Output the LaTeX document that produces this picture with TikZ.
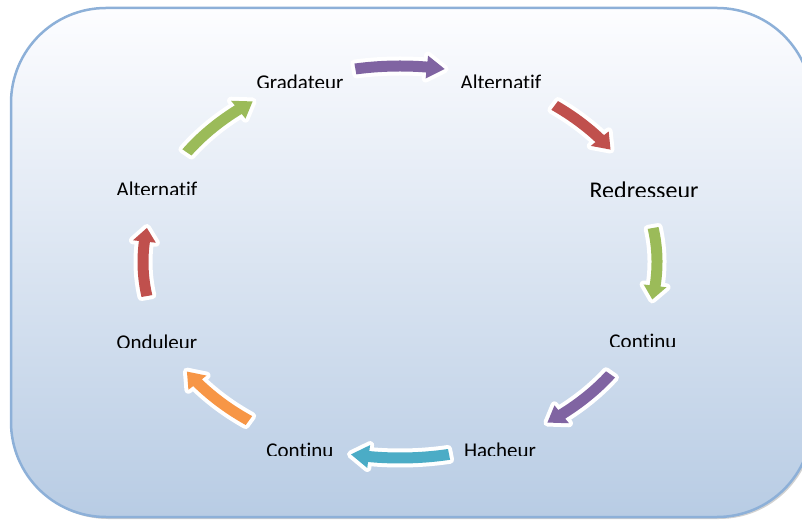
\documentclass[tikz,border=0pt]{standalone}
\usepackage{fontspec}
\setmainfont{Carlito}[Ligatures=NoCommon]
\usetikzlibrary{calc}

\definecolor{frameline}{RGB}{141,176,216}
\definecolor{frametop}{RGB}{253,253,255}
\definecolor{framebottom}{RGB}{184,204,228}
\definecolor{cpurple}{RGB}{128,100,162}
\definecolor{cred}{RGB}{192,80,77}
\definecolor{cgreen}{RGB}{155,187,89}
\definecolor{cteal}{RGB}{75,172,198}
\definecolor{corange}{RGB}{247,150,70}

\tikzset{
  lbl/.style={inner sep=0pt, text=black},
}

% curved block arrow along the cycle ellipse (radii 257 x 196),
% running clockwise from the tail angle #2 to the tip angle #3
\newcommand{\cyclearrow}[3]{%
  \pgfmathsetmacro\hb{#3+4}%
  \path[fill=white, draw=white, line width=8pt, line join=round]
    (#2:262.5 and 201.5) arc[start angle=#2, end angle=\hb, x radius=262.5, y radius=201.5]
    -- (\hb:268.5 and 207.5) -- (#3:257 and 196) -- (\hb:245.5 and 184.5) -- (\hb:251.5 and 190.5)
    arc[start angle=\hb, end angle=#2, x radius=251.5, y radius=190.5] -- cycle;
  \fill[#1]
    (#2:262.5 and 201.5) arc[start angle=#2, end angle=\hb, x radius=262.5, y radius=201.5]
    -- (\hb:268.5 and 207.5) -- (#3:257 and 196) -- (\hb:245.5 and 184.5) -- (\hb:251.5 and 190.5)
    arc[start angle=\hb, end angle=#2, x radius=251.5, y radius=190.5] -- cycle;
}

% label whose lowest strip is trimmed just above the baseline
\newcommand{\cutlabel}[5]{%
  \begin{scope}
    \clip (#2-90,#3+2) rectangle (#2+90,#3+40);
    \node[lbl, font=\fontsize{#4}{#4}\selectfont, anchor=base] (#1) at (#2,#3) {#5};
  \end{scope}
}

\begin{document}
\begin{tikzpicture}[x=1pt, y=1pt]
  \useasboundingbox (0,0) rectangle (802,519);
  \clip (0,0) rectangle (802,519);

  % panel with soft shadow
  \fill[black!45, opacity=0.4, rounded corners=95pt] (13,0) rectangle (814,509);
  \shade[top color=frametop, bottom color=framebottom, rounded corners=95pt]
    (11,2) rectangle (812,511);
  \draw[frameline, line width=2.5pt, rounded corners=95pt] (11,2) rectangle (812,511);

  % labels
  \cutlabel{grad}{300}{429.5}{21}{Gradateur}
  \cutlabel{alttop}{501}{429.5}{21}{Alternatif}
  \cutlabel{redr}{644}{320.5}{24}{Redresseur}
  \cutlabel{contr}{643}{170.5}{21}{Continu}
  \cutlabel{hach}{500}{61.5}{21}{Hacheur}
  \cutlabel{contb}{300}{61.5}{21}{Continu}
  \cutlabel{ondu}{157}{169}{21}{Onduleur}
  \cutlabel{altleft}{157}{322.5}{21}{Alternatif}

  % cycle arrows
  \begin{scope}[shift={(400,257)}]
    \coordinate (C) at (0,0);
    \cyclearrow{cpurple}{100}{80}
    \cyclearrow{cred}{53}{35}
    \cyclearrow{cgreen}{10}{-11}
    \cyclearrow{cpurple}{-35}{-55}
    \cyclearrow{cteal}{-79}{-101}
    \cyclearrow{corange}{-126}{-146}
    \cyclearrow{cred}{190}{170}
    \cyclearrow{cgreen}{146}{125}
  \end{scope}
\end{tikzpicture}
\end{document}
